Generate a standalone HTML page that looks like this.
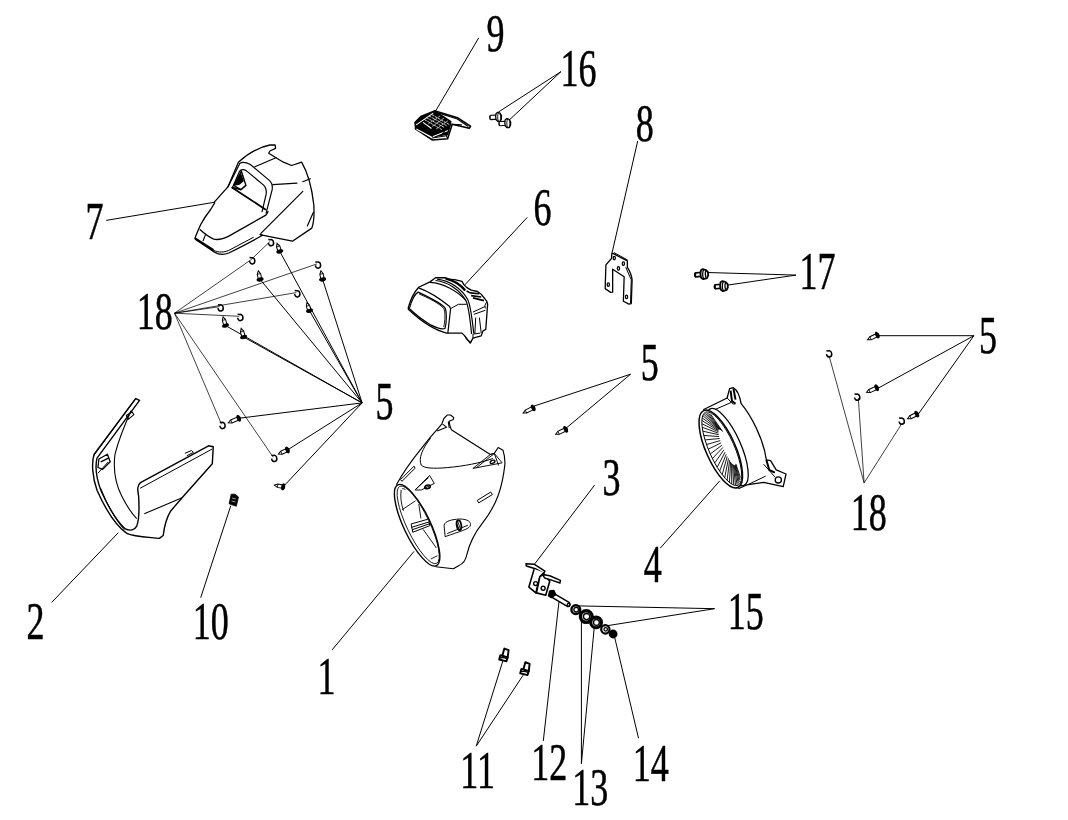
<!DOCTYPE html>
<html><head><meta charset="utf-8"><style>html,body{margin:0;padding:0;background:#fff;}svg{display:block;filter:grayscale(1)}</style></head>
<body><svg width="1068" height="820" viewBox="0 0 1068 820">
<rect width="1068" height="820" fill="#fff"/>
<g font-family="Liberation Serif" fill="#000" stroke="#000" stroke-width="0.55">
<text transform="translate(486.52,50.60) scale(0.68,1)" font-size="53">9</text>
<text transform="translate(560.56,85.70) scale(0.68,1)" font-size="53">16</text>
<text transform="translate(635.66,141.00) scale(0.68,1)" font-size="53">8</text>
<text transform="translate(85.38,238.90) scale(0.68,1)" font-size="53">7</text>
<text transform="translate(533.56,225.00) scale(0.68,1)" font-size="53">6</text>
<text transform="translate(799.46,288.50) scale(0.68,1)" font-size="53">17</text>
<text transform="translate(136.66,328.80) scale(0.68,1)" font-size="53">18</text>
<text transform="translate(375.44,419.30) scale(0.68,1)" font-size="53">5</text>
<text transform="translate(640.84,380.20) scale(0.68,1)" font-size="53">5</text>
<text transform="translate(979.04,352.70) scale(0.68,1)" font-size="53">5</text>
<text transform="translate(602.60,494.90) scale(0.68,1)" font-size="53">3</text>
<text transform="translate(26.46,638.90) scale(0.68,1)" font-size="53">2</text>
<text transform="translate(192.76,638.90) scale(0.68,1)" font-size="53">10</text>
<text transform="translate(317.46,694.40) scale(0.68,1)" font-size="53">1</text>
<text transform="translate(643.78,582.00) scale(0.68,1)" font-size="53">4</text>
<text transform="translate(850.66,529.70) scale(0.68,1)" font-size="53">18</text>
<text transform="translate(727.76,628.90) scale(0.68,1)" font-size="53">15</text>
<text transform="translate(460.36,787.80) scale(0.68,1)" font-size="53">11</text>
<text transform="translate(531.16,779.80) scale(0.68,1)" font-size="53">12</text>
<text transform="translate(572.26,805.30) scale(0.68,1)" font-size="53">13</text>
<text transform="translate(632.66,781.10) scale(0.68,1)" font-size="53">14</text>
</g>
<polyline points="478.7,37.9 435.0,112.0" fill="none" stroke="#000" stroke-width="1.0" />
<polyline points="561.0,71.6 498.3,112.1" fill="none" stroke="#000" stroke-width="1.0" />
<polyline points="561.0,71.6 510.0,119.3" fill="none" stroke="#000" stroke-width="1.0" />
<polyline points="637.7,141.0 612.2,252.3" fill="none" stroke="#000" stroke-width="1.0" />
<polyline points="106.2,220.4 214.8,202.2" fill="none" stroke="#000" stroke-width="1.0" />
<polyline points="527.3,217.3 464.8,284.9" fill="none" stroke="#000" stroke-width="1.0" />
<polyline points="796.0,275.1 707.4,272.5" fill="none" stroke="#000" stroke-width="1.0" />
<polyline points="796.0,275.1 726.2,285.3" fill="none" stroke="#000" stroke-width="1.0" />
<polyline points="973.9,335.7 877.3,335.7" fill="none" stroke="#000" stroke-width="1.0" />
<polyline points="973.9,335.7 878.8,387.8" fill="none" stroke="#000" stroke-width="1.0" />
<polyline points="973.9,335.7 918.3,414.1" fill="none" stroke="#000" stroke-width="1.0" />
<polyline points="864.1,482.9 829.0,355.6" fill="none" stroke="#000" stroke-width="0.75" />
<polyline points="864.1,482.9 858.3,398.0" fill="none" stroke="#000" stroke-width="0.75" />
<polyline points="864.1,482.9 902.2,423.0" fill="none" stroke="#000" stroke-width="0.75" />
<polyline points="630.6,374.2 534.0,406.1" fill="none" stroke="#000" stroke-width="1.0" />
<polyline points="630.6,374.2 566.2,428.1" fill="none" stroke="#000" stroke-width="1.0" />
<polyline points="594.6,485.1 534.8,563.8" fill="none" stroke="#000" stroke-width="1.0" />
<polyline points="660.3,548.1 719.8,480.8" fill="none" stroke="#000" stroke-width="1.0" />
<polyline points="332.1,649.9 414.0,551.4" fill="none" stroke="#000" stroke-width="1.0" />
<polyline points="51.7,602.4 118.3,532.7" fill="none" stroke="#000" stroke-width="1.0" />
<polyline points="200.7,597.7 230.8,505.7" fill="none" stroke="#000" stroke-width="1.0" />
<polyline points="714.6,608.7 578.3,605.9" fill="none" stroke="#000" stroke-width="1.0" />
<polyline points="714.6,608.7 607.8,625.6" fill="none" stroke="#000" stroke-width="1.0" />
<polyline points="476.2,746.2 503.0,660.4" fill="none" stroke="#000" stroke-width="1.0" />
<polyline points="476.2,746.2 523.2,675.1" fill="none" stroke="#000" stroke-width="1.0" />
<polyline points="543.3,740.9 559.0,601.5" fill="none" stroke="#000" stroke-width="1.0" />
<polyline points="581.4,763.7 581.4,617.4" fill="none" stroke="#000" stroke-width="1.0" />
<polyline points="581.4,763.7 594.3,626.8" fill="none" stroke="#000" stroke-width="1.0" />
<polyline points="638.5,738.2 614.4,636.2" fill="none" stroke="#000" stroke-width="1.0" />
<polyline points="174.5,313.2 251.2,259.6" fill="none" stroke="#000" stroke-width="0.75" />
<polyline points="174.5,313.2 317.0,263.9" fill="none" stroke="#000" stroke-width="0.75" />
<polyline points="174.5,313.2 296.3,292.6" fill="none" stroke="#000" stroke-width="0.75" />
<polyline points="174.5,313.2 219.6,306.7" fill="none" stroke="#000" stroke-width="0.75" />
<polyline points="174.5,313.2 239.3,316.3" fill="none" stroke="#000" stroke-width="0.75" />
<polyline points="174.5,313.2 221.5,424.3" fill="none" stroke="#000" stroke-width="0.75" />
<polyline points="174.5,313.2 273.2,457.2" fill="none" stroke="#000" stroke-width="0.75" />
<polyline points="251.2,259.6 270.0,241.5" fill="none" stroke="#000" stroke-width="0.75" />
<polyline points="362.1,402.9 279.8,251.4" fill="none" stroke="#000" stroke-width="1.0" />
<polyline points="362.1,402.9 260.1,279.4" fill="none" stroke="#000" stroke-width="1.0" />
<polyline points="362.1,402.9 322.6,279.4" fill="none" stroke="#000" stroke-width="1.0" />
<polyline points="362.1,402.9 309.5,310.7" fill="none" stroke="#000" stroke-width="1.0" />
<polyline points="362.1,402.9 225.5,325.5" fill="none" stroke="#000" stroke-width="1.0" />
<polyline points="362.1,402.9 243.6,337.0" fill="none" stroke="#000" stroke-width="1.0" />
<polyline points="362.1,402.9 238.7,418.3" fill="none" stroke="#000" stroke-width="1.0" />
<polyline points="362.1,402.9 287.4,450.0" fill="none" stroke="#000" stroke-width="1.0" />
<polyline points="362.1,402.9 283.1,486.8" fill="none" stroke="#000" stroke-width="1.0" />
<path d="M268.41,242.97 A2.6,3.12 0 1 0 270.33,239.69 L268.33,239.50" fill="none" stroke="#000" stroke-width="1.5" stroke-linejoin="miter"/>
<path d="M249.61,261.07 A2.6,3.12 0 1 0 251.53,257.79 L249.53,257.60" fill="none" stroke="#000" stroke-width="1.5" stroke-linejoin="miter"/>
<path d="M315.41,265.37 A2.6,3.12 0 1 0 317.33,262.09 L315.33,261.90" fill="none" stroke="#000" stroke-width="1.5" stroke-linejoin="miter"/>
<path d="M294.71,294.07 A2.6,3.12 0 1 0 296.63,290.79 L294.63,290.60" fill="none" stroke="#000" stroke-width="1.5" stroke-linejoin="miter"/>
<path d="M218.01,308.17 A2.6,3.12 0 1 0 219.93,304.89 L217.93,304.70" fill="none" stroke="#000" stroke-width="1.5" stroke-linejoin="miter"/>
<path d="M237.71,317.77 A2.6,3.12 0 1 0 239.63,314.49 L237.63,314.30" fill="none" stroke="#000" stroke-width="1.5" stroke-linejoin="miter"/>
<path d="M219.91,425.77 A2.6,3.12 0 1 0 221.83,422.49 L219.83,422.30" fill="none" stroke="#000" stroke-width="1.5" stroke-linejoin="miter"/>
<path d="M271.61,458.67 A2.6,3.12 0 1 0 273.53,455.39 L271.53,455.20" fill="none" stroke="#000" stroke-width="1.5" stroke-linejoin="miter"/>
<path d="M826.51,354.17 A2.6,3.12 0 1 0 828.43,350.89 L826.43,350.70" fill="none" stroke="#000" stroke-width="1.5" stroke-linejoin="miter"/>
<path d="M854.61,397.47 A2.6,3.12 0 1 0 856.53,394.19 L854.53,394.00" fill="none" stroke="#000" stroke-width="1.5" stroke-linejoin="miter"/>
<path d="M899.11,421.47 A2.6,3.12 0 1 0 901.03,418.19 L899.03,418.00" fill="none" stroke="#000" stroke-width="1.5" stroke-linejoin="miter"/>
<g transform="translate(277.2,243.8) rotate(71.1)"><path d="M-0.5,0 L2.8,-1.7 L7.032434251209283,-1.7 L7.032434251209283,1.7 L2.8,1.7 Z" fill="#fff" stroke="#000" stroke-width="1"/><path d="M2.8,-1.7 L2.8,1.7" stroke="#000" stroke-width="0.8"/><ellipse cx="8.032434251209283" cy="0" rx="1.9" ry="3.6" fill="#000"/><rect x="8.032434251209283" y="-1.5" width="2.0" height="3.0" fill="#000"/></g>
<g transform="translate(258.4,271.2) rotate(78.3)"><path d="M-0.5,0 L2.8,-1.7 L7.374365647617733,-1.7 L7.374365647617733,1.7 L2.8,1.7 Z" fill="#fff" stroke="#000" stroke-width="1"/><path d="M2.8,-1.7 L2.8,1.7" stroke="#000" stroke-width="0.8"/><ellipse cx="8.374365647617733" cy="0" rx="1.9" ry="3.6" fill="#000"/><rect x="8.374365647617733" y="-1.5" width="2.0" height="3.0" fill="#000"/></g>
<g transform="translate(321.0,271.2) rotate(79.0)"><path d="M-0.5,0 L2.8,-1.7 L7.354639429682162,-1.7 L7.354639429682162,1.7 L2.8,1.7 Z" fill="#fff" stroke="#000" stroke-width="1"/><path d="M2.8,-1.7 L2.8,1.7" stroke="#000" stroke-width="0.8"/><ellipse cx="8.354639429682162" cy="0" rx="1.9" ry="3.6" fill="#000"/><rect x="8.354639429682162" y="-1.5" width="2.0" height="3.0" fill="#000"/></g>
<g transform="translate(307.1,303.1) rotate(72.5)"><path d="M-0.5,0 L2.8,-1.7 L6.9699435380684704,-1.7 L6.9699435380684704,1.7 L2.8,1.7 Z" fill="#fff" stroke="#000" stroke-width="1"/><path d="M2.8,-1.7 L2.8,1.7" stroke="#000" stroke-width="0.8"/><ellipse cx="7.9699435380684704" cy="0" rx="1.9" ry="3.6" fill="#000"/><rect x="7.9699435380684704" y="-1.5" width="2.0" height="3.0" fill="#000"/></g>
<g transform="translate(223.2,317.3) rotate(74.3)"><path d="M-0.5,0 L2.8,-1.7 L7.516454661418674,-1.7 L7.516454661418674,1.7 L2.8,1.7 Z" fill="#fff" stroke="#000" stroke-width="1"/><path d="M2.8,-1.7 L2.8,1.7" stroke="#000" stroke-width="0.8"/><ellipse cx="8.516454661418674" cy="0" rx="1.9" ry="3.6" fill="#000"/><rect x="8.516454661418674" y="-1.5" width="2.0" height="3.0" fill="#000"/></g>
<g transform="translate(241.3,328.8) rotate(74.3)"><path d="M-0.5,0 L2.8,-1.7 L7.516454661418667,-1.7 L7.516454661418667,1.7 L2.8,1.7 Z" fill="#fff" stroke="#000" stroke-width="1"/><path d="M2.8,-1.7 L2.8,1.7" stroke="#000" stroke-width="0.8"/><ellipse cx="8.516454661418667" cy="0" rx="1.9" ry="3.6" fill="#000"/><rect x="8.516454661418667" y="-1.5" width="2.0" height="3.0" fill="#000"/></g>
<g transform="translate(228.8,422.6) rotate(-23.5)"><path d="M-0.5,0 L2.8,-1.7 L9.793516572461435,-1.7 L9.793516572461435,1.7 L2.8,1.7 Z" fill="#fff" stroke="#000" stroke-width="1"/><path d="M2.8,-1.7 L2.8,1.7" stroke="#000" stroke-width="0.8"/><ellipse cx="10.793516572461435" cy="0" rx="1.9" ry="3.6" fill="#000"/><rect x="10.793516572461435" y="-1.5" width="2.0" height="3.0" fill="#000"/></g>
<g transform="translate(278.8,453.9) rotate(-24.4)"><path d="M-0.5,0 L2.8,-1.7 L8.442986815621381,-1.7 L8.442986815621381,1.7 L2.8,1.7 Z" fill="#fff" stroke="#000" stroke-width="1"/><path d="M2.8,-1.7 L2.8,1.7" stroke="#000" stroke-width="0.8"/><ellipse cx="9.442986815621381" cy="0" rx="1.9" ry="3.6" fill="#000"/><rect x="9.442986815621381" y="-1.5" width="2.0" height="3.0" fill="#000"/></g>
<g transform="translate(274.9,485.2) rotate(11.0)"><path d="M-0.5,0 L2.8,-1.7 L7.3546394296822175,-1.7 L7.3546394296822175,1.7 L2.8,1.7 Z" fill="#fff" stroke="#000" stroke-width="1"/><path d="M2.8,-1.7 L2.8,1.7" stroke="#000" stroke-width="0.8"/><ellipse cx="8.354639429682218" cy="0" rx="1.9" ry="3.6" fill="#000"/><rect x="8.354639429682218" y="-1.5" width="2.0" height="3.0" fill="#000"/></g>
<g transform="translate(868.0,339.5) rotate(-25.3)"><path d="M-0.5,0 L2.8,-1.7 L9.288342918079614,-1.7 L9.288342918079614,1.7 L2.8,1.7 Z" fill="#fff" stroke="#000" stroke-width="1"/><path d="M2.8,-1.7 L2.8,1.7" stroke="#000" stroke-width="0.8"/><ellipse cx="10.288342918079614" cy="0" rx="1.9" ry="3.6" fill="#000"/><rect x="10.288342918079614" y="-1.5" width="2.0" height="3.0" fill="#000"/></g>
<g transform="translate(867.0,392.2) rotate(-24.4)"><path d="M-0.5,0 L2.8,-1.7 L9.651291001564115,-1.7 L9.651291001564115,1.7 L2.8,1.7 Z" fill="#fff" stroke="#000" stroke-width="1"/><path d="M2.8,-1.7 L2.8,1.7" stroke="#000" stroke-width="0.8"/><ellipse cx="10.651291001564115" cy="0" rx="1.9" ry="3.6" fill="#000"/><rect x="10.651291001564115" y="-1.5" width="2.0" height="3.0" fill="#000"/></g>
<g transform="translate(908.0,418.5) rotate(-26.6)"><path d="M-0.5,0 L2.8,-1.7 L8.838699100999024,-1.7 L8.838699100999024,1.7 L2.8,1.7 Z" fill="#fff" stroke="#000" stroke-width="1"/><path d="M2.8,-1.7 L2.8,1.7" stroke="#000" stroke-width="0.8"/><ellipse cx="9.838699100999024" cy="0" rx="1.9" ry="3.6" fill="#000"/><rect x="9.838699100999024" y="-1.5" width="2.0" height="3.0" fill="#000"/></g>
<g transform="translate(523.5,412.8) rotate(-26.8)"><path d="M-0.5,0 L2.8,-1.7 L9.867382389517783,-1.7 L9.867382389517783,1.7 L2.8,1.7 Z" fill="#fff" stroke="#000" stroke-width="1"/><path d="M2.8,-1.7 L2.8,1.7" stroke="#000" stroke-width="0.8"/><ellipse cx="10.867382389517783" cy="0" rx="1.9" ry="3.6" fill="#000"/><rect x="10.867382389517783" y="-1.5" width="2.0" height="3.0" fill="#000"/></g>
<g transform="translate(556.1,434.1) rotate(-26.6)"><path d="M-0.5,0 L2.8,-1.7 L9.733126291999016,-1.7 L9.733126291999016,1.7 L2.8,1.7 Z" fill="#fff" stroke="#000" stroke-width="1"/><path d="M2.8,-1.7 L2.8,1.7" stroke="#000" stroke-width="0.8"/><ellipse cx="10.733126291999016" cy="0" rx="1.9" ry="3.6" fill="#000"/><rect x="10.733126291999016" y="-1.5" width="2.0" height="3.0" fill="#000"/></g>
<path d="M 214.5,201.9 L 227.9,186.9 L 238.4,162.2 C 245.9,155.5 257.9,147.2 269.9,145.0 L 275.1,145.0 L 275.6,148.3 L 269.9,151.0 L 268.7,153.2 L 283.4,162.2 L 291.6,165.5 L 301.6,162.2 C 307.3,171.9 311.8,186.9 313.8,204.9 C 314.5,216.9 313.3,224.4 311.8,228.1 L 292.4,241.2 L 260.9,234.9" fill="none" stroke="#000" stroke-width="1.3" stroke-linejoin="round" stroke-linecap="round" />
<path d="M 260.0,234.4 L 262.5,235.3 C 256.6,238.7 235.6,249.6 228.8,253.0 C 224.6,254.7 218.7,254.7 214.5,252.1 L 196.8,240.3 L 195.1,237.8 C 196.0,235.3 198.5,229.4 200.6,224.7 C 203.5,219.3 206.9,214.2 210.3,210.0 L 214.7,202.8" fill="none" stroke="#000" stroke-width="1.3" stroke-linejoin="round" stroke-linecap="round" />
<path d="M 195.5,238.7 L 212.8,249.6" fill="none" stroke="#000" stroke-width="2.2" stroke-linejoin="round" stroke-linecap="round" />
<path d="M 213.7,250.4 C 218.7,252.6 223.8,252.6 228.8,250.4 L 253.3,237.4" fill="none" stroke="#000" stroke-width="1.0" stroke-linejoin="round" stroke-linecap="round" />
<path d="M 205.6,234.4 L 203.1,240.8" fill="none" stroke="#000" stroke-width="1.1" stroke-linejoin="round" stroke-linecap="round" />
<path d="M 200.2,229.8 C 203.5,232.8 208.6,237.0 213.7,239.1 C 218.7,240.3 223.8,238.7 228.8,236.1 L 265.9,215.1 C 267.2,213.8 268.0,212.1 268.0,211.3" fill="none" stroke="#000" stroke-width="1.3" stroke-linejoin="round" stroke-linecap="round" />
<path d="M 227.9,186.9 L 239.9,163.3 C 242.9,161.5 245.9,162.2 250.4,164.5 L 269.9,180.9 C 272.1,183.2 272.9,185.4 272.1,189.9 L 266.1,213.1" fill="none" stroke="#000" stroke-width="1.2" stroke-linejoin="round" stroke-linecap="round" />
<path d="M 232.4,187.7 L 239.2,171.9 C 240.7,169.3 243.7,169.0 245.9,170.4 L 263.9,185.4 C 266.1,187.7 266.9,189.9 266.1,194.4 L 262.1,211.6" fill="none" stroke="#000" stroke-width="1.2" stroke-linejoin="round" stroke-linecap="round" />
<path d="M 232.4,187.7 L 265.4,209.4" fill="none" stroke="#000" stroke-width="1.8" stroke-linejoin="round" stroke-linecap="round" />
<path d="M 233.9,185.4 L 241.4,171.2 L 245.9,185.4 L 240.7,189.9 Z" fill="none" stroke="#000" stroke-width="1.4" stroke-linejoin="round" stroke-linecap="round" />
<path d="M 235.4,184.7 L 240.7,174.9 L 242.9,180.9 L 239.2,183.9 Z M 232.4,187.7 L 239.9,189.2" fill="#000" stroke="#000" stroke-width="1.8" stroke-linejoin="round" stroke-linecap="round" />
<path d="M 254.9,166.7 L 275.9,157.7" fill="none" stroke="#000" stroke-width="1.2" stroke-linejoin="round" stroke-linecap="round" />
<path d="M 272.9,184.7 L 296.9,183.2 M 302.8,181.7 L 310.3,178.7" fill="none" stroke="#000" stroke-width="1.2" stroke-linejoin="round" stroke-linecap="round" />
<path d="M 260.9,233.4 L 302.8,191.4" fill="none" stroke="#000" stroke-width="1.2" stroke-linejoin="round" stroke-linecap="round" />
<path d="M 307.3,225.9 L 313.3,212.4" fill="none" stroke="#000" stroke-width="1.2" stroke-linejoin="round" stroke-linecap="round" />
<path d="M 414.8,122.3 L 420.7,116.4 L 434.5,110.8 L 450.9,121.6 L 447.6,134.1 L 433.2,137.0 L 415.5,128.8 Z" fill="#000" stroke="#000" stroke-width="1.2" stroke-linejoin="round" stroke-linecap="round" />
<path d="M 434.5,110.8 L 457.4,117.7 L 470.5,126.2 L 469.2,128.2 L 452.2,124.3 L 447.6,138.7 L 432.5,140.0 L 415.5,128.8" fill="none" stroke="#000" stroke-width="1.6" stroke-linejoin="round" stroke-linecap="round" />
<path d="M 439.1,113.1 L 457.4,119.0 L 467.9,126.2 M 452.2,124.3 L 461.4,124.9" fill="none" stroke="#000" stroke-width="1.2" stroke-linejoin="round" stroke-linecap="round" />
<g style="stroke:#fff">
<path d="M 416.5,124.6 L 432.9,113.4 M 423.4,122.6 L 431.2,128.2 M 416.8,129.2 L 431.2,137.0 M 433.2,136.4 L 447.6,130.8" fill="none" stroke="#000" stroke-width="1.1" stroke-linejoin="round" stroke-linecap="round" style="stroke:#fff"/>
<path d="M 426.6,117.7 L 444.3,127.5 M 429.3,116.1 L 446.9,125.9 M 431.9,114.7 L 448.9,124.3 M 424.7,119.7 L 441.7,129.5" fill="none" stroke="#000" stroke-width="0.8" stroke-linejoin="round" stroke-linecap="round" style="stroke:#fff" stroke-dasharray="2 1.5"/>
<path d="M 428.6,123.6 L 440.4,115.7 M 432.5,126.2 L 444.3,118.0 M 436.5,128.8 L 447.6,121.0" fill="none" stroke="#000" stroke-width="0.7" stroke-linejoin="round" stroke-linecap="round" style="stroke:#fff" stroke-dasharray="1.5 1.5"/>
</g>
<path d="M 432.5,138.0 L 446.9,135.7 L 450.9,123.6 M 447.6,138.7 L 444.3,130.8 L 441.7,135.4" fill="none" stroke="#000" stroke-width="1.0" stroke-linejoin="round" stroke-linecap="round" />
<g transform="translate(483,105) scale(0.03277)"><g transform="translate(0,0)"><path d="M230,315 L420,305 L430,430 L240,445 C190,440 190,320 230,315 Z" fill="#fff" stroke="#000" stroke-width="1.1" vector-effect="non-scaling-stroke" stroke-linejoin="round"/><ellipse cx="222" cy="380" rx="14" ry="50" fill="#000"/><path d="M400,260 L450,225 L520,250 L565,330 L560,430 L520,500 L450,500 L400,450 L385,350 Z" fill="#fff" stroke="#000" stroke-width="1.3" vector-effect="non-scaling-stroke" stroke-linejoin="round"/><path d="M470,240 C440,280 440,440 470,490 M520,270 C540,320 545,400 525,470" fill="none" stroke="#000" stroke-width="0.9" vector-effect="non-scaling-stroke" stroke-linejoin="round"/><ellipse cx="445" cy="455" rx="12" ry="16" fill="#000"/><ellipse cx="520" cy="290" rx="10" ry="14" fill="#000"/></g><g transform="translate(280,190)"><path d="M230,315 L420,305 L430,430 L240,445 C190,440 190,320 230,315 Z" fill="#fff" stroke="#000" stroke-width="1.1" vector-effect="non-scaling-stroke" stroke-linejoin="round"/><ellipse cx="222" cy="380" rx="14" ry="50" fill="#000"/><path d="M400,260 L450,225 L520,250 L565,330 L560,430 L520,500 L450,500 L400,450 L385,350 Z" fill="#fff" stroke="#000" stroke-width="1.3" vector-effect="non-scaling-stroke" stroke-linejoin="round"/><path d="M470,240 C440,280 440,440 470,490 M520,270 C540,320 545,400 525,470" fill="none" stroke="#000" stroke-width="0.9" vector-effect="non-scaling-stroke" stroke-linejoin="round"/><ellipse cx="445" cy="455" rx="12" ry="16" fill="#000"/><ellipse cx="520" cy="290" rx="10" ry="14" fill="#000"/></g></g>
<g transform="translate(430,270) scale(0.09146)"><path d="M-237,410 C-215,330 -170,240 -124,189 L0,130 L60,85 L170,85 L185,100 L270,105 L350,125 L370,160 L400,190 L450,220 L520,235 L560,265 L620,340 L630,370 L610,650 L580,665 L560,720 L470,745 L440,800 L380,720 L350,690 L180,690 C60,660 -100,560 -237,430 Z" fill="#fff" stroke="#000" stroke-width="1.3" vector-effect="non-scaling-stroke" stroke-linejoin="round"/><path d="M-124,195 C0,240 130,330 215,400 L225,425 L195,690" fill="none" stroke="#000" stroke-width="1.2" vector-effect="non-scaling-stroke" stroke-linejoin="round"/><path d="M-226,421 C-203,342 -169,263 -130,242 C12,308 103,353 160,410 C185,440 182,580 165,637 C137,654 80,637 12,603 C-101,535 -180,467 -226,421" fill="none" stroke="#000" stroke-width="1.2" vector-effect="non-scaling-stroke" stroke-linejoin="round"/><path d="M-120,262 C0,312 110,372 150,422 C170,452 165,562 150,622" fill="none" stroke="#000" stroke-width="0.9" vector-effect="non-scaling-stroke" stroke-linejoin="round"/><path d="M0,135 C150,145 300,230 390,330" fill="none" stroke="#000" stroke-width="1.1" vector-effect="non-scaling-stroke" stroke-linejoin="round"/><path d="M60,115 C200,130 330,220 395,340 C420,400 440,550 455,700 M78,100 C220,118 350,208 412,322 C442,382 462,540 478,690" fill="none" stroke="#000" stroke-width="1.2" vector-effect="non-scaling-stroke" stroke-linejoin="round"/><path d="M170,92 C260,115 330,155 385,225" fill="none" stroke="#000" stroke-width="2.4" vector-effect="non-scaling-stroke" stroke-linejoin="round"/><path d="M230,420 L310,375 L400,375" fill="none" stroke="#000" stroke-width="1.0" vector-effect="non-scaling-stroke" stroke-linejoin="round"/><path d="M440,250 L540,260 M450,280 L560,295 M470,305 L590,335 M400,230 L440,250" fill="none" stroke="#000" stroke-width="1.6" vector-effect="non-scaling-stroke" stroke-linejoin="round"/><path d="M470,460 L600,400 M480,485 L605,440 M500,520 L490,700 M540,520 L560,690 M620,345 L600,390 L605,420" fill="none" stroke="#000" stroke-width="1.0" vector-effect="non-scaling-stroke" stroke-linejoin="round"/><path d="M380,720 L400,760 L450,790 M470,745 L470,700 L550,690" fill="none" stroke="#000" stroke-width="1.0" vector-effect="non-scaling-stroke" stroke-linejoin="round"/></g>
<g transform="translate(598,245) scale(0.07927)"><path d="M175,100 L370,200 L370,280 C400,330 425,390 430,440 L420,740 L390,745 L320,710 L330,400 L185,305 L185,595 L160,598 L90,550 L100,250 L170,170 Z" fill="#fff" stroke="#000" stroke-width="1.3" vector-effect="non-scaling-stroke" stroke-linejoin="round"/><path d="M200,95 L375,190 M350,280 L420,440 L410,730" fill="none" stroke="#000" stroke-width="1.0" vector-effect="non-scaling-stroke" stroke-linejoin="round"/><ellipse cx="205" cy="165" rx="14" ry="22" fill="#fff" stroke="#000" stroke-width="1.3" vector-effect="non-scaling-stroke"/><ellipse cx="320" cy="235" rx="14" ry="22" fill="#fff" stroke="#000" stroke-width="1.3" vector-effect="non-scaling-stroke"/><ellipse cx="258" cy="295" rx="14" ry="22" fill="#fff" stroke="#000" stroke-width="1.3" vector-effect="non-scaling-stroke"/><ellipse cx="130" cy="500" rx="14" ry="22" fill="#fff" stroke="#000" stroke-width="1.3" vector-effect="non-scaling-stroke"/><ellipse cx="360" cy="655" rx="14" ry="22" fill="#fff" stroke="#000" stroke-width="1.3" vector-effect="non-scaling-stroke"/></g>
<g transform="translate(685,260) scale(0.04682)"><g transform="translate(0,0)"><path d="M230,275 L380,262 L385,345 L230,360 C200,355 200,280 230,275 Z" fill="#fff" stroke="#000" stroke-width="1.6" vector-effect="non-scaling-stroke" stroke-linejoin="round"/><path d="M235,280 C210,290 210,350 235,360" fill="none" stroke="#000" stroke-width="2" vector-effect="non-scaling-stroke"/><path d="M340,220 L380,195 L450,215 L490,260 L495,330 L470,385 L390,410 L345,380 L330,300 Z" fill="#fff" stroke="#000" stroke-width="1.8" vector-effect="non-scaling-stroke" stroke-linejoin="round"/><path d="M400,215 C370,240 370,370 400,395 M445,230 C430,260 430,340 450,375" fill="none" stroke="#000" stroke-width="1.3" vector-effect="non-scaling-stroke" stroke-linejoin="round"/></g><g transform="translate(420,255)"><path d="M230,275 L380,262 L385,345 L230,360 C200,355 200,280 230,275 Z" fill="#fff" stroke="#000" stroke-width="1.6" vector-effect="non-scaling-stroke" stroke-linejoin="round"/><path d="M235,280 C210,290 210,350 235,360" fill="none" stroke="#000" stroke-width="2" vector-effect="non-scaling-stroke"/><path d="M340,220 L380,195 L450,215 L490,260 L495,330 L470,385 L390,410 L345,380 L330,300 Z" fill="#fff" stroke="#000" stroke-width="1.8" vector-effect="non-scaling-stroke" stroke-linejoin="round"/><path d="M400,215 C370,240 370,370 400,395 M445,230 C430,260 430,340 450,375" fill="none" stroke="#000" stroke-width="1.3" vector-effect="non-scaling-stroke" stroke-linejoin="round"/></g></g>
<g transform="translate(685,380) scale(0.14031)"><path d="M130,212 L300,128 L318,62 L345,55 C370,70 390,110 400,168 C470,250 560,420 580,570 L610,575 L650,640 L720,670 L700,760 L560,730 L440,748 L380,775" fill="#fff" stroke="#000" stroke-width="1.3" vector-effect="non-scaling-stroke" stroke-linejoin="round"/><path d="M180,225 L330,160 M300,128 L345,175 M560,600 L640,690 M450,745 L575,685" fill="none" stroke="#000" stroke-width="1.0" vector-effect="non-scaling-stroke" stroke-linejoin="round"/><path d="M325,75 L335,150 L360,170 M345,60 L360,140 M580,570 L600,640 L640,660" fill="none" stroke="#000" stroke-width="2.0" vector-effect="non-scaling-stroke" stroke-linejoin="round"/><circle cx="665" cy="712" r="22" fill="#fff" stroke="#000" stroke-width="1.3" vector-effect="non-scaling-stroke"/><ellipse cx="300" cy="478" rx="98" ry="298" transform="rotate(-24 300 478)" fill="#fff" stroke="#000" stroke-width="1.3" vector-effect="non-scaling-stroke"/><ellipse cx="255" cy="492" rx="105" ry="300" transform="rotate(-24 255 492)" fill="#fff" stroke="#000" stroke-width="1.5" vector-effect="non-scaling-stroke"/><ellipse cx="262" cy="490" rx="90" ry="285" transform="rotate(-24 262 490)" fill="none" stroke="#000" stroke-width="1.0" vector-effect="non-scaling-stroke"/><path d="M395,695 L362,598 M392,713 L361,604 M387,728 L358,607 M380,739 L355,608 M371,746 L350,607 M360,748 L345,604 M347,746 L339,599 M333,740 L332,592 M317,729 L325,583 M300,715 L318,572 M283,696 L310,559 M265,674 L301,545 M247,649 L293,530 M230,621 L285,515 M212,591 L277,498 M196,559 L270,481 M180,527 L263,465 M166,493 L257,448 M154,460 L251,432 M143,427 L247,417 M134,395 L243,403 M128,365 L240,390 M123,337 L238,379 M121,312 L238,369 M121,289 L238,362 M124,271 L239,356 M129,256 L242,353 M136,245 L245,352 M145,238 L250,353 M156,236 L255,356 M169,238 L261,361 M183,244 L268,368 " fill="none" stroke="#000" stroke-width="0.9" vector-effect="non-scaling-stroke" stroke-linejoin="round"/></g>
<g transform="translate(385,405) scale(0.20732)"><path d="M55,385 C90,320 130,265 175,210 L217,157 L274,92 L284,65 L301,48 L316,48 L332,61 L328,71 L309,78 L313,100 L320,119 L508,239 L527,233 L546,205 L569,218 C576,240 580,260 578,290 C565,400 540,480 470,570 C430,620 410,660 395,720 C390,750 380,765 355,775 L330,790 L245,780" fill="#fff" stroke="#000" stroke-width="1.15" vector-effect="non-scaling-stroke" stroke-linejoin="round"/><ellipse cx="155" cy="580" rx="64" ry="216" transform="rotate(-25.5 155 580)" fill="#fff" stroke="#000" stroke-width="1.4" vector-effect="non-scaling-stroke"/><ellipse cx="160" cy="578" rx="55" ry="206" transform="rotate(-25.5 160 578)" fill="none" stroke="#000" stroke-width="0.9" vector-effect="non-scaling-stroke"/><path d="M220,160 C180,210 160,260 175,290 C190,305 230,308 300,302 C380,295 460,280 520,258" fill="none" stroke="#000" stroke-width="1.0" vector-effect="non-scaling-stroke" stroke-linejoin="round"/><path d="M424,306 L508,239 L527,233 L565,279 Z M440,303 L525,236 M527,233 L548,292" fill="none" stroke="#000" stroke-width="0.95" vector-effect="non-scaling-stroke" stroke-linejoin="round"/><ellipse cx="519" cy="274" rx="12" ry="7" transform="rotate(-25 519 274)" fill="none" stroke="#000" stroke-width="1.4" vector-effect="non-scaling-stroke"/><path d="M251,125 L297,107 L278,92 M305,80 L310,111" fill="none" stroke="#000" stroke-width="1.1" vector-effect="non-scaling-stroke" stroke-linejoin="round"/><path d="M145,410 L215,340 L238,378 L175,410 Z M150,405 L210,350" fill="none" stroke="#000" stroke-width="0.95" vector-effect="non-scaling-stroke" stroke-linejoin="round"/><ellipse cx="205" cy="395" rx="14" ry="8" transform="rotate(-20 205 395)" fill="none" stroke="#000" stroke-width="1.6" vector-effect="non-scaling-stroke"/><path d="M75,360 L140,295 L145,305 L82,368 Z" fill="none" stroke="#000" stroke-width="1.0" vector-effect="non-scaling-stroke" stroke-linejoin="round"/><path d="M445,460 L510,420 L518,432 L452,472 Z" fill="none" stroke="#000" stroke-width="1.0" vector-effect="non-scaling-stroke" stroke-linejoin="round"/><path d="M285,580 C290,560 320,552 360,550 C400,550 420,565 410,585 C400,600 360,610 290,635 Z M300,620 L400,580" fill="none" stroke="#000" stroke-width="0.95" vector-effect="non-scaling-stroke" stroke-linejoin="round"/><ellipse cx="357" cy="580" rx="11" ry="24" transform="rotate(-10 357 580)" fill="#fff" stroke="#000" stroke-width="1.8" vector-effect="non-scaling-stroke"/><path d="M350,560 L365,600 M345,570 L360,605" fill="none" stroke="#000" stroke-width="0.9" vector-effect="non-scaling-stroke" stroke-linejoin="round"/><path d="M126,574 L210,550 L216,582 L134,614 Z M128,590 L213,564 M131,602 L214,573" fill="#fff" stroke="#000" stroke-width="1.0" vector-effect="non-scaling-stroke" stroke-linejoin="round"/><path d="M78,409 C73,441 78,478 89,510 M83,505 L147,462 M163,478 L173,547 M184,600 L248,690 M221,743 L253,727 M83,404 C90,402 95,405 99,410" fill="none" stroke="#000" stroke-width="0.9" vector-effect="non-scaling-stroke" stroke-linejoin="round"/></g>
<g transform="translate(80,390) scale(0.18902)"><path d="M295,45 L315,55 L90,360 C80,400 85,460 110,530 C150,620 200,700 240,735 C265,748 290,740 300,720 C312,690 315,640 310,560 C305,530 300,505 320,490 L680,295 L705,300 L700,390 L540,570 L480,640 C450,690 445,730 440,770 L420,785 C350,778 280,775 250,760 C190,720 130,620 90,530 C65,460 60,380 75,340 Z" fill="#fff" stroke="#000" stroke-width="1.4" vector-effect="non-scaling-stroke" stroke-linejoin="round"/><path d="M70,350 L295,45" fill="none" stroke="#000" stroke-width="1.0" vector-effect="non-scaling-stroke" stroke-linejoin="round"/><path d="M270,110 C230,200 200,280 185,340 C175,420 190,500 220,560 C250,620 280,660 300,680" fill="none" stroke="#000" stroke-width="1.1" vector-effect="non-scaling-stroke" stroke-linejoin="round"/><path d="M318,520 L700,312" fill="none" stroke="#000" stroke-width="1.0" vector-effect="non-scaling-stroke" stroke-linejoin="round"/><path d="M340,655 L540,570" fill="none" stroke="#000" stroke-width="1.1" vector-effect="non-scaling-stroke" stroke-linejoin="round"/><path d="M110,520 C140,600 190,690 235,740" fill="none" stroke="#000" stroke-width="0.9" vector-effect="non-scaling-stroke" stroke-linejoin="round"/><path d="M100,365 L145,340 L160,380 L120,420 L95,410 Z M110,380 L150,360" fill="#fff" stroke="#000" stroke-width="1.3" vector-effect="non-scaling-stroke" stroke-linejoin="round"/><path d="M245,135 L275,115 L285,130 L255,155 Z" fill="none" stroke="#000" stroke-width="1.1" vector-effect="non-scaling-stroke" stroke-linejoin="round"/><path d="M555,335 L590,320 L600,330 L565,348" fill="none" stroke="#000" stroke-width="1.0" vector-effect="non-scaling-stroke" stroke-linejoin="round"/><path d="M95,440 L150,380" fill="none" stroke="#000" stroke-width="1.0" vector-effect="non-scaling-stroke" stroke-linejoin="round"/></g>
<path d="M231.2,494.2 L235.1,494.2 L238.5,497 L236.3,506.3 L229.1,503.8 Z" fill="#000" stroke="#000" stroke-width="0.8"/>
<path d="M232,498 L236,499 M231.5,501 L235.5,502" stroke="#fff" stroke-width="0.6"/>
<g transform="translate(490,640) scale(0.06098)"><g transform="translate(0,0)"><path d="M235,140 L305,165 L290,285 L200,265 Z" fill="#fff" stroke="#000" stroke-width="1.9" vector-effect="non-scaling-stroke" stroke-linejoin="round"/><path d="M170,250 L290,285 L270,350 L150,320 Z" fill="#fff" stroke="#000" stroke-width="1.9" vector-effect="non-scaling-stroke" stroke-linejoin="round"/><path d="M165,295 C200,285 240,290 275,305" fill="none" stroke="#000" stroke-width="1.4" vector-effect="non-scaling-stroke" stroke-linejoin="round"/></g><g transform="translate(345,225)"><path d="M235,140 L305,165 L290,285 L200,265 Z" fill="#fff" stroke="#000" stroke-width="1.9" vector-effect="non-scaling-stroke" stroke-linejoin="round"/><path d="M170,250 L290,285 L270,350 L150,320 Z" fill="#fff" stroke="#000" stroke-width="1.9" vector-effect="non-scaling-stroke" stroke-linejoin="round"/><path d="M165,295 C200,285 240,290 275,305" fill="none" stroke="#000" stroke-width="1.4" vector-effect="non-scaling-stroke" stroke-linejoin="round"/></g></g>
<g transform="translate(515,550) scale(0.11585)"><path d="M95,118 L165,122 L258,182 L248,202 L175,162 L98,138 Z" fill="#fff" stroke="#000" stroke-width="1.5" vector-effect="non-scaling-stroke" stroke-linejoin="round"/><path d="M165,165 L120,320 L180,370 L215,230 L250,195" fill="#fff" stroke="#000" stroke-width="1.6" vector-effect="non-scaling-stroke" stroke-linejoin="round"/><path d="M215,230 L185,370 L265,390 L300,270 L250,210 Z" fill="#fff" stroke="#000" stroke-width="1.6" vector-effect="non-scaling-stroke" stroke-linejoin="round"/><path d="M240,212 L300,222 L392,262 L388,285 L310,258 L255,242 Z" fill="#fff" stroke="#000" stroke-width="1.5" vector-effect="non-scaling-stroke" stroke-linejoin="round"/><circle cx="178" cy="290" r="17" fill="none" stroke="#000" stroke-width="1.4" vector-effect="non-scaling-stroke"/><circle cx="243" cy="330" r="17" fill="none" stroke="#000" stroke-width="1.4" vector-effect="non-scaling-stroke"/><path d="M320,365 L470,455 C480,465 475,490 455,488 L305,400 Z" fill="#fff" stroke="#000" stroke-width="1.5" vector-effect="non-scaling-stroke" stroke-linejoin="round"/><path d="M300,355 L335,350 L350,385 L315,410 L290,395 Z" fill="#000" stroke="#000" stroke-width="1.6" vector-effect="non-scaling-stroke" stroke-linejoin="round"/><ellipse cx="462" cy="474" rx="10" ry="14" transform="rotate(-30 462 474)" fill="none" stroke="#000" stroke-width="1.2" vector-effect="non-scaling-stroke"/><circle cx="525" cy="515" r="38" fill="#fff" stroke="#000" stroke-width="2.4" vector-effect="non-scaling-stroke"/><circle cx="528" cy="515" r="20" fill="#fff" stroke="#000" stroke-width="1.3" vector-effect="non-scaling-stroke"/><circle cx="615" cy="575" r="50" fill="#fff" stroke="#000" stroke-width="3.4" vector-effect="non-scaling-stroke"/><circle cx="618" cy="575" r="27" fill="#fff" stroke="#000" stroke-width="1.3" vector-effect="non-scaling-stroke"/><circle cx="700" cy="625" r="46" fill="#fff" stroke="#000" stroke-width="3.2" vector-effect="non-scaling-stroke"/><circle cx="703" cy="625" r="25" fill="#fff" stroke="#000" stroke-width="1.3" vector-effect="non-scaling-stroke"/><circle cx="780" cy="685" r="36" fill="#fff" stroke="#000" stroke-width="2.2" vector-effect="non-scaling-stroke"/><circle cx="783" cy="685" r="15" fill="#fff" stroke="#000" stroke-width="1.3" vector-effect="non-scaling-stroke"/><circle cx="847" cy="725" r="38" fill="#000"/></g>
</svg></body></html>
